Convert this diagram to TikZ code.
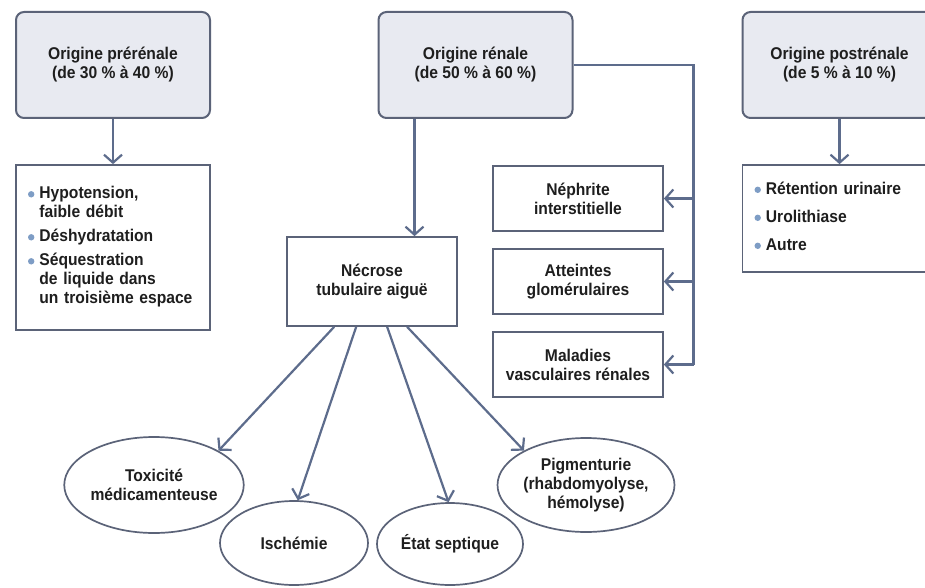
\documentclass[tikz,border=0pt]{standalone}
\usepackage{fontspec}
\setmainfont{Liberation Sans}[FakeStretch=0.92]
\usepackage{xcolor}
\definecolor{cadre}{HTML}{5B6378}
\definecolor{fond}{HTML}{E8EAF1}
\definecolor{fleche}{HTML}{5D6C8C}
\definecolor{puce}{HTML}{7E9DC5}
\definecolor{texte}{HTML}{1E1E1E}
\usetikzlibrary{shapes.geometric,arrows.meta,positioning}
\newcommand\pc{\tikz[baseline=-4.5pt]\fill[puce] (0,0) circle (3.2pt);}

\begin{document}
\begin{tikzpicture}[x=1pt,y=-1pt,
  font=\fontsize{17}{19}\selectfont\bfseries,text=texte,
  origine/.style={draw=cadre,fill=fond,line width=2pt,rounded corners=8pt,
                  minimum width=194pt,minimum height=106pt,align=center},
  liste/.style={draw=cadre,fill=white,line width=1.7pt,minimum width=194pt,
                text width=170pt,inner xsep=12pt,align=left},
  cause/.style={draw=cadre,fill=white,line width=1.7pt,minimum width=170pt,
                minimum height=65pt,align=center},
  bulle/.style={ellipse,draw=cadre,fill=white,line width=1.7pt,inner sep=0pt,align=center},
  trait/.style={line width=2.2pt,color=fleche},
  arrow/.style={trait,-{Straight Barb[length=8pt,width=18pt]}}
]
\useasboundingbox (0,0) rectangle (925,588);
\clip (0,0) rectangle (925,588);
\fill[white] (0,0) rectangle (925,588);

% origines
\node[origine] (origpre) at (113,65) {Origine prérénale\\(de 30 \% à 40 \%)};
\node[origine] (origren) at (475.5,65) {Origine rénale\\(de 50 \% à 60 \%)};
\node[origine] (origpost) at (839.5,65) {Origine postrénale\\(de 5 \% à 10 \%)};

% listes
\node[liste,minimum height=165pt] (listpre) at (113,247.5)
  {\begin{tabular}{@{}l@{\hspace{5pt}}l@{}}
   \pc & Hypotension,\\ & faible débit\\[5pt]
   \pc & Déshydratation\\[5pt]
   \pc & Séquestration\\ & de liquide dans\\ & un troisième espace
   \end{tabular}};
\node[liste,minimum height=107pt] (listpost) at (839.5,218.5)
  {\begin{tabular}{@{}l@{\hspace{5pt}}l@{}}
   \pc & Rétention urinaire\\[9pt]
   \pc & Urolithiase\\[9pt]
   \pc & Autre
   \end{tabular}};

% renale
\node[cause,minimum height=89pt] (nta) at (372,281.5) {Nécrose\\tubulaire aiguë};
\node[cause] (nephrite) at (578,198.5) {Néphrite\\interstitielle};
\node[cause] (glomer) at (578,281.5) {Atteintes\\glomérulaires};
\node[cause] (vascul) at (578,364.5) {Maladies\\vasculaires rénales};

\node[bulle,minimum width=160pt,minimum height=96pt] (toxic) at (154,485) {Toxicité\\médicamenteuse};
\node[bulle,minimum width=148pt,minimum height=84pt] (ischem) at (294,543) {Ischémie};
\node[bulle,minimum width=146pt,minimum height=82pt] (septic) at (450,544) {État septique};
\node[bulle,minimum width=148pt,minimum height=94pt] (pigment) at (586,485) {Pigmenturie\\(rhabdomyolyse,\\hémolyse)};

% fleches
\draw[arrow] (origpre) -- (listpre);
\draw[arrow] (origpost) -- (listpost);
\draw[arrow] ([xshift=37pt]origren.south west) -- ([xshift=37pt]origren.south west |- nta.north);
\draw[trait] (origren.east) -- ++(120,0) coordinate (coude) -- (coude |- vascul.east);
\draw[arrow] (coude |- nephrite.east) -- (nephrite.east);
\draw[arrow] (coude |- glomer.east) -- (glomer.east);
\draw[arrow] (coude |- vascul.east) -- (vascul.east);
\draw[arrow] ([xshift=48pt]nta.south west) -- (toxic.28);
\draw[arrow] ([xshift=70pt]nta.south west) -- (ischem.85);
\draw[arrow] ([xshift=101pt]nta.south west) -- (septic.92);
\draw[arrow] ([xshift=121pt]nta.south west) -- (pigment.151);
\end{tikzpicture}
\end{document}
